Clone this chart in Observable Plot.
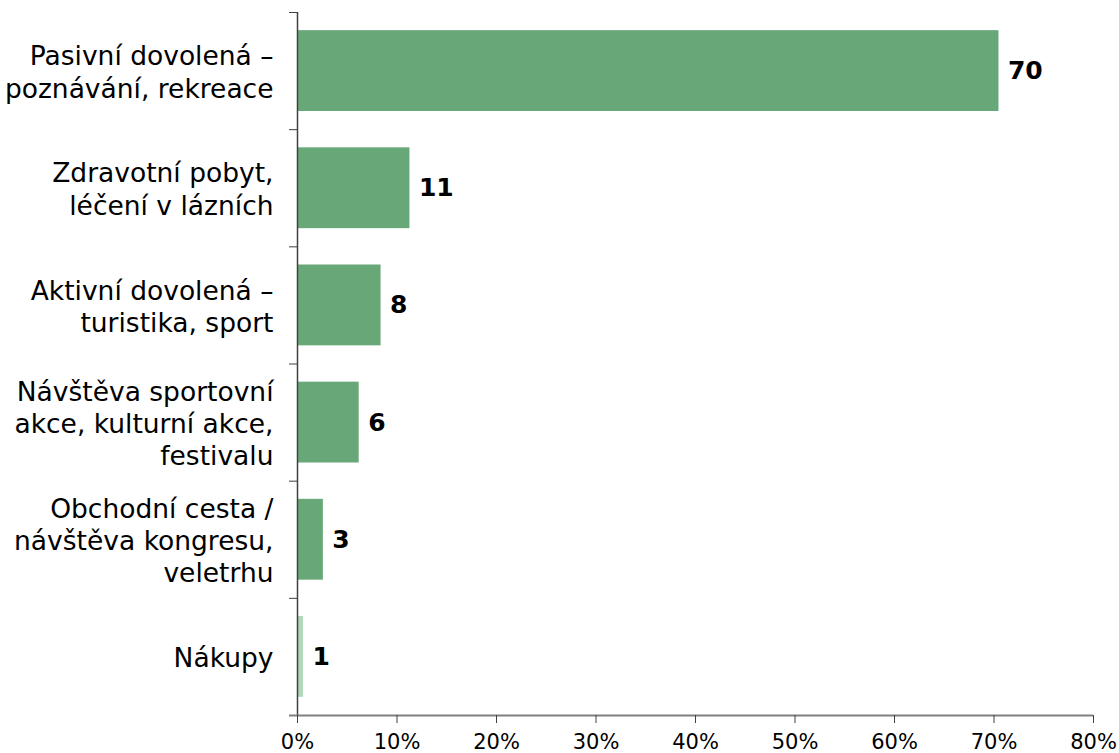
<!DOCTYPE html>
<html><head><meta charset="utf-8">
<script src="https://cdn.jsdelivr.net/npm/d3@7"></script>
<script src="https://cdn.jsdelivr.net/npm/@observablehq/plot@0.6"></script>
<style>body{margin:0;background:#fff}</style>
</head><body><div id="chart"></div>
<script>
const categories = [
  "Pasivní dovolená –\npoznávání, rekreace",
  "Zdravotní pobyt,\nléčení v lázních",
  "Aktivní dovolená –\nturistika, sport",
  "Návštěva sportovní\nakce, kulturní akce,\nfestivalu",
  "Obchodní cesta /\nnávštěva kongresu,\nveletrhu",
  "Nákupy"
];
const values = [70.5, 11.3, 8.4, 6.2, 2.6, 0.6];
const labels = ["70", "11", "8", "6", "3", "1"];
const colors = ["#68a878", "#68a878", "#68a878", "#68a878", "#68a878", "#b2d8b8"];
const xTicks = [0, 10, 20, 30, 40, 50, 60, 70, 80];

const data = categories.map((c, i) => ({c, i, v: values[i], l: labels[i], col: colors[i]}));

const chart = Plot.plot({
  width: 1119, height: 753,
  marginLeft: 297, marginRight: 26, marginTop: 12, marginBottom: 38,
  style: {fontFamily: "DejaVu Sans, Verdana, sans-serif", background: "#fff"},
  x: {domain: [0, 80], label: null},
  y: {domain: [0, 6], reverse: true, label: null},
  marks: [
    Plot.rectX(data, {x1: 0, x2: "v", y1: d => d.i + 0.155, y2: d => d.i + 0.845, fill: "col"}),
    Plot.text(data, {x: "v", y: d => d.i + 0.5, text: "l", textAnchor: "start", dx: 9, fontWeight: "bold", fontSize: 25, fill: "#000"}),
    Plot.text(data, {x: 0, y: d => d.i + 0.5, text: "c", textAnchor: "end", dx: -24, fontSize: 26.5, lineHeight: 1.22, fill: "#000"}),
    Plot.axisY({ticks: d3.range(0, 7), tickSize: 8, tickFormat: () => "", label: null, stroke: "#404040", strokeOpacity: 1}),
    Plot.ruleX([0], {stroke: "#404040", strokeWidth: 1.5}),
    Plot.ruleY([6], {stroke: "#808080", strokeWidth: 2, insetLeft: -8}),
    Plot.axisX({ticks: xTicks, tickSize: 8, tickFormat: d => d + "%", label: null, fontSize: 21, tickPadding: 11, stroke: "#404040", strokeOpacity: 1, fill: "#000"})
  ]
});
d3.select(chart).selectAll('g[aria-label="x-axis tick label"]').attr("font-size", 21).selectAll("text").attr("font-size", 21);
document.getElementById("chart").appendChild(chart);
</script>
</body></html>
